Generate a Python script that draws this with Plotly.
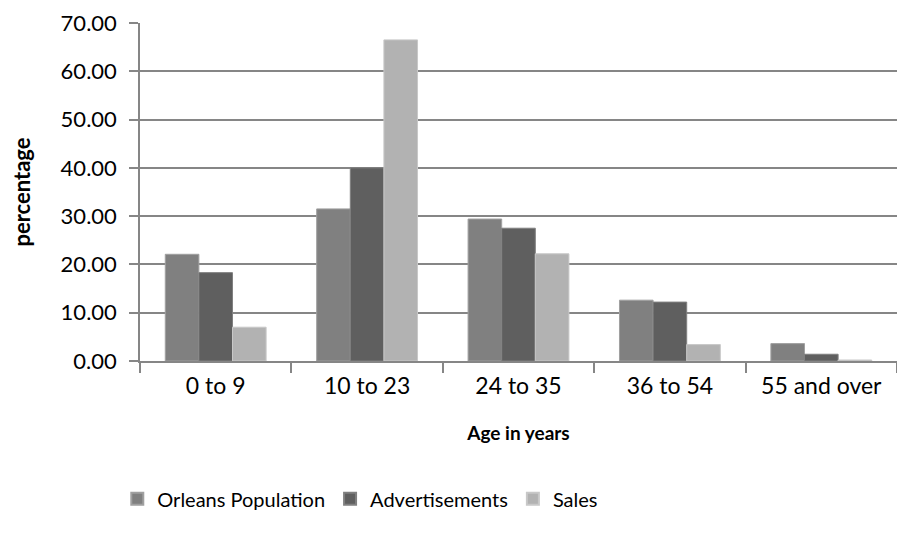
import plotly.graph_objects as go

categories = ["0 to 9", "10 to 23", "24 to 35", "36 to 54", "55 and over"]
orleans = [22.1, 31.5, 29.4, 12.6, 3.6]
ads = [18.3, 40.0, 27.5, 12.2, 1.4]
sales = [7.0, 66.5, 22.2, 3.4, 0.2]
y_ticks = [0, 10, 20, 30, 40, 50, 60, 70]

FONT = "Lato"

fig = go.Figure()
fig.add_trace(go.Bar(name="Orleans Population", x=categories, y=orleans,
                     marker=dict(color="#808080", line=dict(color="#a0a0a0", width=1))))
fig.add_trace(go.Bar(name="Advertisements", x=categories, y=ads,
                     marker=dict(color="#5f5f5f", line=dict(color="#808080", width=1))))
fig.add_trace(go.Bar(name="Sales", x=categories, y=sales,
                     marker=dict(color="#b2b2b2", line=dict(color="#c8c8c8", width=1))))

fig.update_layout(
    width=897, height=544,
    margin=dict(l=140, r=0, t=23, b=183),
    paper_bgcolor="white", plot_bgcolor="white",
    barmode="group", bargap=0.334, bargroupgap=0,
    font=dict(family=FONT, size=20, color="#000000"),
    showlegend=True,
    legend=dict(orientation="h", x=-0.03, xanchor="left", y=-0.35, yanchor="top",
                font=dict(family=FONT, size=20), itemsizing="constant",
                itemwidth=30, traceorder="normal"),
)
fig.update_xaxes(
    type="category", showline=True, linecolor="#868686", linewidth=1.5,
    ticks="outside", tickson="boundaries", ticklen=10, tickcolor="#868686", tickwidth=1.5,
    ticklabelstandoff=4,
    tickfont=dict(family=FONT, size=23),
    title=dict(text="<b>Age in years</b>", font=dict(family=FONT, size=19), standoff=28),
    showgrid=False,
)
fig.update_yaxes(
    range=[0, 70], tickvals=y_ticks, tickformat=".2f",
    showline=True, linecolor="#868686", linewidth=1.5,
    ticks="outside", ticklen=9, tickcolor="#868686", tickwidth=1.5,
    ticklabelstandoff=8,
    showgrid=True, gridcolor="#868686", gridwidth=1.5,
    zeroline=False,
    tickfont=dict(family=FONT, size=22),
    title=dict(text="<b>percentage</b>", font=dict(family=FONT, size=22), standoff=24),
)

fig.write_html("out.html")
